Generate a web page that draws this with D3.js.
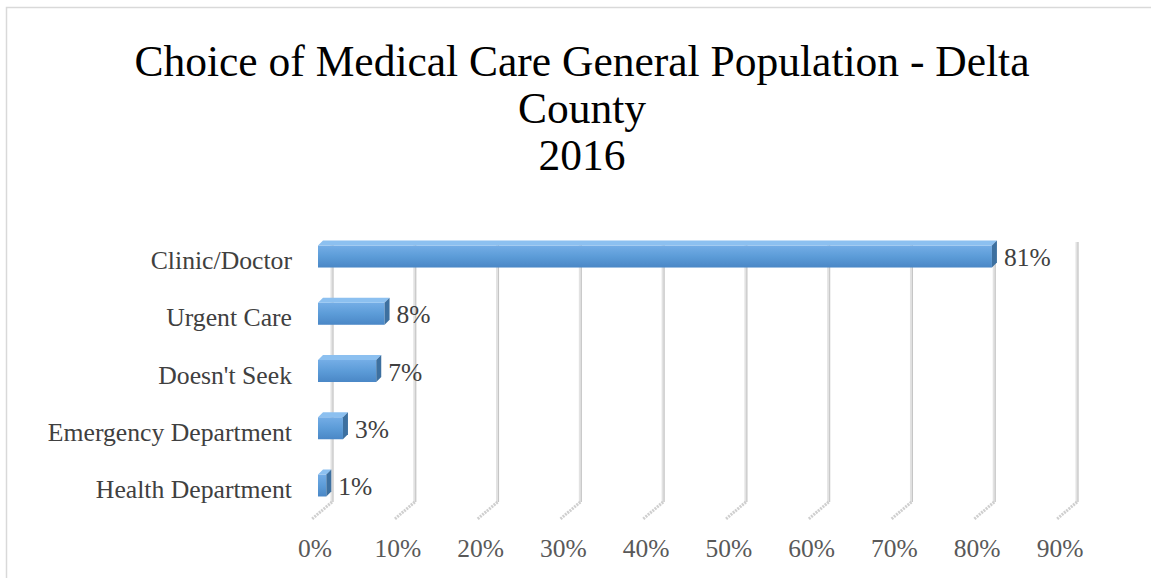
<!DOCTYPE html>
<html>
<head>
<meta charset="utf-8">
<script src="https://cdn.jsdelivr.net/npm/d3@7"></script>
<style>
  body { margin: 0; background: #fff; }
  svg { display: block; }
  text { font-family: "Liberation Serif", "DejaVu Serif", serif; }
</style>
</head>
<body>
<script>
// chart data
var categories = ["Clinic/Doctor", "Urgent Care", "Doesn't Seek", "Emergency Department", "Health Department"];
var values = [81, 8, 7, 3, 1];
var ticks = [0, 10, 20, 30, 40, 50, 60, 70, 80, 90];
var titleLines = ["Choice of Medical Care General Population - Delta", "County", "2016"];

var width = 1151, height = 578;
var depth = 5; // bar 3d offset

var svg = d3.select("body").append("svg")
    .attr("width", width)
    .attr("height", height);

// chart area border
svg.append("rect")
    .attr("x", 6.5).attr("y", 7.5)
    .attr("width", 1200).attr("height", 700)
    .attr("fill", "none")
    .attr("stroke", "#d9d9d9")
    .attr("stroke-width", 1.5);

var defs = svg.append("defs");
var grad = defs.append("linearGradient")
    .attr("id", "barFront").attr("x1", 0).attr("y1", 0).attr("x2", 0).attr("y2", 1);
grad.append("stop").attr("offset", "0%").attr("stop-color", "#74ade6");
grad.append("stop").attr("offset", "50%").attr("stop-color", "#5c9cd8");
grad.append("stop").attr("offset", "100%").attr("stop-color", "#4a87c6");

// scales
var xBack = d3.scaleLinear().domain([0, 90]).range([332, 1077]);
var xFront = d3.scaleLinear().domain([0, 90]).range([318, 1066.8]);
var xLabel = d3.scaleLinear().domain([0, 90]).range([315, 1060]);
var y = d3.scaleBand().domain(categories).range([225.4, 511.6])
    .paddingInner(0.528).paddingOuter(0.264);

// title
svg.append("g").selectAll("text")
    .data(titleLines)
    .enter().append("text")
    .attr("x", 582)
    .attr("y", function(d, i) { return 76 + i * 47; })
    .attr("text-anchor", "middle")
    .attr("font-size", 43.5)
    .attr("fill", "#000")
    .text(function(d) { return d; });

// gridlines: back wall + floor
var wallTop = 242, wallBottom = 502;
var grid = svg.append("g");
grid.selectAll("line.wall")
    .data(ticks)
    .enter().append("line")
    .attr("class", "wall")
    .attr("x1", function(d) { return xBack(d); })
    .attr("x2", function(d) { return xBack(d); })
    .attr("y1", wallTop).attr("y2", wallBottom)
    .attr("stroke", "#e2e2e2").attr("stroke-width", 3);
grid.selectAll("line.wall2")
    .data(ticks)
    .enter().append("line")
    .attr("class", "wall2")
    .attr("x1", function(d) { return xBack(d) + 1; })
    .attr("x2", function(d) { return xBack(d) + 1; })
    .attr("y1", wallTop).attr("y2", wallBottom)
    .attr("stroke", "#c4c4c4").attr("stroke-width", 1);
grid.selectAll("line.floor")
    .data(ticks)
    .enter().append("line")
    .attr("class", "floor")
    .attr("x1", function(d) { return xBack(d); })
    .attr("y1", wallBottom)
    .attr("x2", function(d) { return xBack(d) - 20; })
    .attr("y2", wallBottom + 17)
    .attr("stroke", "#cfcfcf").attr("stroke-width", 3)
    .attr("stroke-dasharray", "2,1");

// bars
var bars = svg.append("g").selectAll("g")
    .data(categories)
    .enter().append("g");

bars.append("rect")
    .attr("x", xFront(0))
    .attr("y", function(d) { return y(d) + depth; })
    .attr("width", function(d, i) { return xFront(values[i]) - xFront(0); })
    .attr("height", y.bandwidth() - depth)
    .attr("fill", "url(#barFront)");

bars.append("polygon")
    .attr("points", function(d, i) {
        var t = y(d), x0 = xFront(0), x1 = xFront(values[i]);
        return [[x0, t + depth], [x0 + depth, t], [x1 + depth, t], [x1, t + depth]].join(" ");
    })
    .attr("fill", "#8cc0f0");

bars.append("polygon")
    .attr("points", function(d, i) {
        var t = y(d), b = t + y.bandwidth(), x1 = xFront(values[i]);
        return [[x1, t + depth], [x1 + depth, t], [x1 + depth, b - depth], [x1, b]].join(" ");
    })
    .attr("fill", "#3d70a0");

// data labels
svg.append("g").selectAll("text")
    .data(categories)
    .enter().append("text")
    .attr("x", function(d, i) { return xFront(values[i]) + 12; })
    .attr("y", function(d) { return y(d) + y.bandwidth() / 2 + 12; })
    .attr("font-size", 25.5)
    .attr("fill", "#404040")
    .text(function(d, i) { return values[i] + "%"; });

// category labels
svg.append("g").selectAll("text")
    .data(categories)
    .enter().append("text")
    .attr("x", 292)
    .attr("y", function(d) { return y(d) + y.bandwidth() / 2 + 15; })
    .attr("text-anchor", "end")
    .attr("font-size", 25.7)
    .attr("fill", "#404040")
    .text(function(d) { return d; });

// x tick labels
svg.append("g").selectAll("text")
    .data(ticks)
    .enter().append("text")
    .attr("x", function(d) { return xLabel(d); })
    .attr("y", 557)
    .attr("text-anchor", "middle")
    .attr("font-size", 25.5)
    .attr("fill", "#595959")
    .text(function(d) { return d + "%"; });
</script>
</body>
</html>
